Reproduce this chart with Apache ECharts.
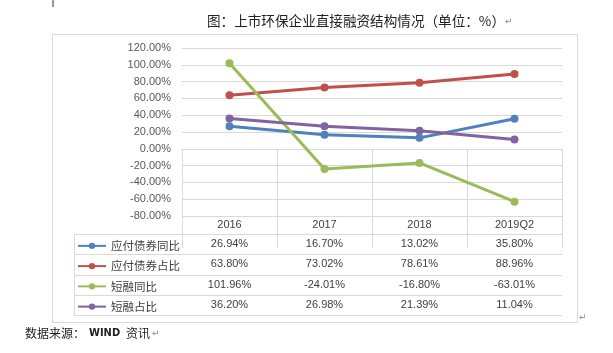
<!DOCTYPE html>
<html>
<head>
<meta charset="utf-8">
<script src="https://cdn.jsdelivr.net/npm/echarts@6/dist/echarts.min.js"></script>
<style>
  html, body { margin: 0; padding: 0; background: #fff; }
  #chart { width: 613px; height: 353px; }
</style>
</head>
<body>
<div id="chart"></div>
<script>
// chart data
const categories = ["2016", "2017", "2018", "2019Q2"];
const seriesNames = ["应付债券同比", "应付债券占比", "短融同比", "短融占比"];
const bondYoy = [26.94, 16.70, 13.02, 35.80];
const bondShare = [63.80, 73.02, 78.61, 88.96];
const shortYoy = [101.96, -24.01, -16.80, -63.01];
const shortShare = [36.20, 26.98, 21.39, 11.04];
const yMin = -80;
const yMax = 120;
const yStep = 20;

const seriesValues = [bondYoy, bondShare, shortYoy, shortShare];
const colors = ["#4F81BD", "#C0504D", "#9BBB59", "#8064A2"];

const gridLine = "#D9D9D9";
const numFont = "Liberation Sans";
const cjkFont = "Noto Sans CJK SC";

// table layout (below the plot)
const tableLeft = 74;
const plotLeft = 182;
const plotRight = 562;
const plotTop = 48;
const plotBottom = 216;
const headerH = 18;
const rowH = 20.25;
const bodyTop = plotBottom + headerH;
const bodyBottom = bodyTop + rowH * seriesNames.length;
const legendIconH = 8;

const chart = echarts.init(document.getElementById("chart"));

function fmt(v) {
  return v.toFixed(2) + "%";
}

const series = seriesNames.map((name, i) => ({
  name: name,
  type: "line",
  data: seriesValues[i],
  symbol: "circle",
  symbolSize: 8,
  color: colors[i],
  lineStyle: { width: 3, color: colors[i] },
  itemStyle: { color: colors[i] },
  emphasis: { disabled: true },
}));

// one legend per table row so each sits in its own row
const legends = seriesNames.map((name, i) => ({
  orient: "vertical",
  padding: 0,
  left: tableLeft + 3,
  top: bodyTop + rowH * (i + 0.5) - legendIconH / 2,
  itemWidth: 28,
  itemHeight: legendIconH,
  selectedMode: false,
  data: [name],
  lineStyle: { width: 2 },
  textStyle: { fontFamily: cjkFont, fontSize: 11.5, color: "#404040" },
}));

chart.setOption({
  animation: false,
  grid: {
    left: plotLeft,
    right: 613 - plotRight,
    top: plotTop,
    bottom: 353 - plotBottom,
  },
  legend: legends,
  xAxis: {
    type: "category",
    data: categories,
    boundaryGap: true,
    axisLine: { lineStyle: { color: gridLine, width: 1 } },
    axisTick: { show: true, inside: false, length: bodyBottom - plotBottom, lineStyle: { color: gridLine } },
    axisLabel: {
      margin: 3,
      fontFamily: numFont,
      fontSize: 11,
      color: "#404040",
    },
  },
  yAxis: {
    type: "value",
    min: yMin,
    max: yMax,
    interval: yStep,
    axisLine: { show: false },
    axisTick: { show: false },
    splitLine: { lineStyle: { color: gridLine, width: 1 } },
    axisLabel: {
      margin: 11,
      fontFamily: numFont,
      fontSize: 11,
      color: "#595959",
      formatter: (v) => fmt(v),
    },
  },
  series: series,
});

// table grid, values and surrounding texts
const graphics = [];

// outer chart frame
graphics.push({
  type: "rect",
  shape: { x: 52.5, y: 34.5, width: 525, height: 288 },
  style: { fill: "none", stroke: gridLine, lineWidth: 1 },
  silent: true,
});

// horizontal row lines
for (let r = 0; r <= seriesNames.length; r++) {
  const y = Math.round(bodyTop + rowH * r) + 0.5;
  graphics.push({
    type: "line",
    shape: { x1: tableLeft, y1: y, x2: plotRight, y2: y },
    style: { stroke: gridLine, lineWidth: 1 },
    silent: true,
  });
}
// left edge of the legend column
graphics.push({
  type: "line",
  shape: { x1: tableLeft + 0.5, y1: bodyTop, x2: tableLeft + 0.5, y2: bodyBottom },
  style: { stroke: gridLine, lineWidth: 1 },
  silent: true,
});

// table values
seriesValues.forEach((vals, i) => {
  vals.forEach((v, j) => {
    const x = chart.convertToPixel({ xAxisIndex: 0 }, j);
    graphics.push({
      type: "text",
      x: x,
      y: bodyTop + rowH * (i + 0.5),
      style: {
        text: fmt(v),
        fontFamily: numFont,
        fontSize: 11,
        fill: "#404040",
        align: "center",
        verticalAlign: "middle",
      },
      silent: true,
    });
  });
});

// title
graphics.push({
  type: "text",
  x: 207,
  y: 21,
  style: {
    text: "图：上市环保企业直接融资结构情况（单位：%）",
    fontFamily: cjkFont,
    fontSize: 13.6,
    fill: "#222",
    align: "left",
    verticalAlign: "middle",
  },
  silent: true,
});
graphics.push({
  type: "text",
  x: 505,
  y: 22,
  style: { text: "↵", fontFamily: "DejaVu Sans", fontSize: 9, fill: "#888", verticalAlign: "middle" },
  silent: true,
});

// source note
graphics.push({
  type: "text",
  x: 25,
  y: 333,
  style: {
    text: "{a|数据来源：}{b|WIND}{a|资讯}",
    align: "left",
    verticalAlign: "middle",
    rich: {
      a: { fontFamily: cjkFont, fontSize: 12, fill: "#222" },
      b: { fontFamily: "DejaVu Sans Condensed", fontWeight: "bold", fontSize: 11, fill: "#222", padding: [0, 6, 0, 4] },
    },
  },
  silent: true,
});
graphics.push({
  type: "text",
  x: 152,
  y: 334,
  style: { text: "↵", fontFamily: "DejaVu Sans", fontSize: 9, fill: "#888", verticalAlign: "middle" },
  silent: true,
});
graphics.push({
  type: "text",
  x: 579,
  y: 318,
  style: { text: "↵", fontFamily: "DejaVu Sans", fontSize: 9, fill: "#888", verticalAlign: "middle" },
  silent: true,
});
// small corner mark at the top
graphics.push({
  type: "line",
  shape: { x1: 53, y1: 0, x2: 53, y2: 7 },
  style: { stroke: "#333", lineWidth: 1 },
  silent: true,
});

chart.setOption({ graphic: graphics });
</script>
</body>
</html>
